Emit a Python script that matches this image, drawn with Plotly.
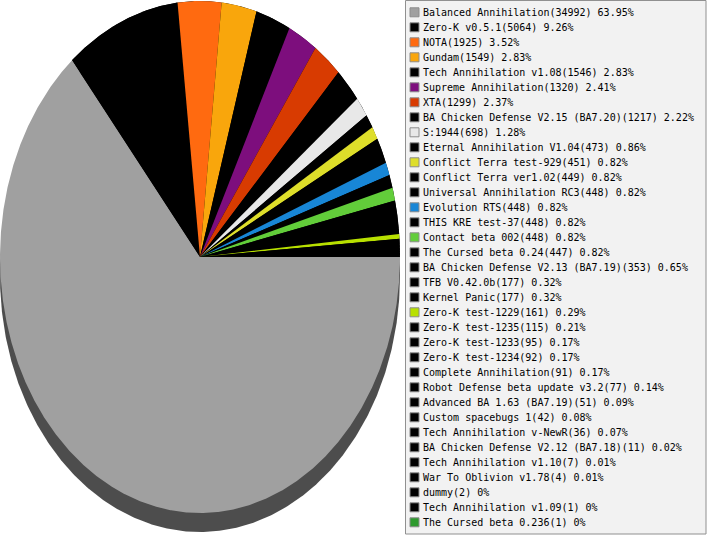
import numpy as np
import plotly.graph_objects as go

# mod usage counts, in legend order (slices run clockwise from 3 o'clock)
names = [
    "Balanced Annihilation", "Zero-K v0.5.1", "NOTA", "Gundam",
    "Tech Annihilation v1.08", "Supreme Annihilation", "XTA",
    "BA Chicken Defense V2.15 (BA7.20)", "S:1944", "Eternal Annihilation V1.04",
    "Conflict Terra test-929", "Conflict Terra ver1.02", "Universal Annihilation RC3",
    "Evolution RTS", "THIS KRE test-37", "Contact beta 002", "The Cursed beta 0.24",
    "BA Chicken Defense V2.13 (BA7.19)", "TFB V0.42.0b", "Kernel Panic",
    "Zero-K test-1229", "Zero-K test-1235", "Zero-K test-1233", "Zero-K test-1234",
    "Complete Annihilation", "Robot Defense beta update v3.2",
    "Advanced BA 1.63 (BA7.19)", "Custom spacebugs 1", "Tech Annihilation v-NewR",
    "BA Chicken Defense V2.12 (BA7.18)", "Tech Annihilation v1.10",
    "War To Oblivion v1.78", "dummy", "Tech Annihilation v1.09",
    "The Cursed beta 0.236",
]
counts = [
    34992, 5064, 1925, 1549, 1546, 1320, 1299, 1217, 698, 473,
    451, 449, 448, 448, 448, 448, 447, 353, 177, 177,
    161, 115, 95, 92, 91, 77, 51, 42, 36, 11,
    7, 4, 2, 1, 1,
]
colors = [
    "#a0a0a0", "#000000", "#ff6a10", "#f9a60c", "#000000", "#7d0e7d", "#d83b01",
    "#000000", "#e8e8e8", "#000000", "#dede2a", "#000000", "#000000", "#1886d6",
    "#000000", "#62cd3a", "#000000", "#000000", "#000000", "#000000", "#b8e000",
    "#000000", "#000000", "#000000", "#000000", "#000000", "#000000", "#000000",
    "#000000", "#000000", "#000000", "#000000", "#000000", "#000000", "#2e9a2e",
]

total = sum(counts)
pcts = [c / total * 100 for c in counts]
labels = [f"{n}({c}) {round(p, 2):g}%" for n, c, p in zip(names, counts, pcts)]

# axes are mapped 1:1 onto the canvas pixels
W, H = 707, 535
CX, CY, RX, RY, DEPTH = 200, 257, 200, 256, 19


def wedge(a0, a1):
    th = np.linspace(a0, a1, max(2, int((a1 - a0) / 0.004) + 2))
    xs = np.concatenate([[CX], CX + RX * np.cos(th), [CX]])
    ys = np.concatenate([[CY], CY + RY * np.sin(th), [CY]])
    return xs, ys


fig = go.Figure()

# dark side of the tilted pie
t = np.linspace(0, 2 * np.pi, 721)
fig.add_trace(go.Scatter(
    x=CX + RX * np.cos(t), y=CY + DEPTH + RY * np.sin(t),
    mode="lines", fill="toself", fillcolor="#4d4d4d",
    line=dict(width=0), hoverinfo="skip",
))

# black backing behind the small slices so no seams show between them
first_end = pcts[0] / 100 * 2 * np.pi
bx, by = wedge(first_end, 2 * np.pi)
fig.add_trace(go.Scatter(x=bx, y=by, mode="lines", fill="toself", fillcolor="#000000",
                         line=dict(width=0), hoverinfo="skip"))

start = 0.0
for lab, p, col in zip(labels, pcts, colors):
    end = start + p / 100 * 2 * np.pi
    xs, ys = wedge(start, end)
    fig.add_trace(go.Scatter(
        x=xs, y=ys, mode="lines", fill="toself", fillcolor=col,
        line=dict(width=0), name=lab, hoverinfo="name",
    ))
    start = end

# hand-built legend (too many rows for the native one)
row_y = [12.3 + 15 * i for i in range(len(labels))]
fig.add_trace(go.Scatter(
    x=[414.5] * len(labels), y=row_y, mode="markers",
    marker=dict(symbol="square", size=9, color=colors,
                line=dict(color="#8c8c8c", width=1)),
    hoverinfo="skip",
))
for lab, y in zip(labels, row_y):
    fig.add_annotation(
        x=421, y=y, text=lab, xanchor="left", yanchor="middle",
        showarrow=False, font=dict(family="DejaVu Sans Mono", size=10, color="#000000"),
    )

fig.add_shape(type="rect", x0=405.5, x1=706, y0=0.5, y1=534,
              fillcolor="#f2f2f2", line=dict(color="#909090", width=1), layer="below")

fig.update_layout(
    width=W, height=H,
    margin=dict(l=0, r=0, t=0, b=0),
    showlegend=False,
    paper_bgcolor="white", plot_bgcolor="white",
    xaxis=dict(range=[0, W], visible=False, fixedrange=True),
    yaxis=dict(range=[H, 0], visible=False, fixedrange=True),
)

# drop the browser's default body margin so the figure sits at the window corner
fig.write_html("out.html", config={"displayModeBar": False},
               post_script="document.body.style.margin='0';")
